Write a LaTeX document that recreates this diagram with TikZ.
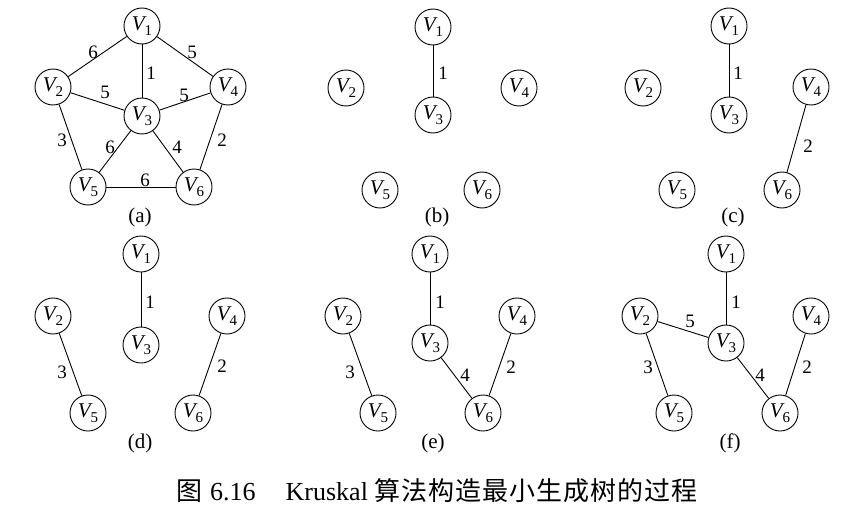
\documentclass[tikz,border=0pt]{standalone}
\usepackage{fontspec}
\setmainfont{Liberation Serif}
\newfontfamily\cjk{Noto Sans CJK SC}
\newcommand\Vx[1]{\textit{V}\kern-2pt\raisebox{-5pt}{\fontsize{15}{15}\selectfont #1}}
\begin{document}
\begin{tikzpicture}[x=1pt,y=-1pt,
  vtx/.style={circle,draw,line width=0.9pt,minimum size=36pt,inner sep=0pt,font=\fontsize{21}{21}\selectfont},
  lbl/.style={inner sep=0pt,font=\fontsize{19}{19}\selectfont},
  sublbl/.style={inner sep=0pt,font=\fontsize{21}{21}\selectfont},
  edge/.style={line width=0.9pt}]
\useasboundingbox (0,0) rectangle (856,511);
% ---------- (a)
\node[vtx] (a1) at (142,26) {\Vx{1}};
\node[vtx] (a2) at (53,87) {\Vx{2}};
\node[vtx] (a3) at (142,116) {\Vx{3}};
\node[vtx] (a4) at (228,87) {\Vx{4}};
\node[vtx] (a5) at (88,187) {\Vx{5}};
\node[vtx] (a6) at (194,187) {\Vx{6}};
\draw[edge] (a1) -- (a2);
\draw[edge] (a1) -- (a4);
\draw[edge] (a1) -- (a3);
\draw[edge] (a2) -- (a3);
\draw[edge] (a3) -- (a4);
\draw[edge] (a2) -- (a5);
\draw[edge] (a3) -- (a5);
\draw[edge] (a3) -- (a6);
\draw[edge] (a4) -- (a6);
\draw[edge] (a5) -- (a6);
\node[lbl] (la12) at (93,52) {6};
\node[lbl] (la14) at (192,52) {5};
\node[lbl] (la13) at (151,73) {1};
\node[lbl] (la23) at (105,92) {5};
\node[lbl] (la34) at (184,95) {5};
\node[lbl] (la25) at (62,140) {3};
\node[lbl] (la35) at (110,147) {6};
\node[lbl] (la36) at (177,147) {4};
\node[lbl] (la46) at (222,140) {2};
\node[lbl] (la56) at (145,180) {6};
\node[sublbl] (ca) at (140,217) {(a)};
% ---------- (b)
\node[vtx] (b1) at (433,27) {\Vx{1}};
\node[vtx] (b2) at (346,88) {\Vx{2}};
\node[vtx] (b3) at (433,115) {\Vx{3}};
\node[vtx] (b4) at (519,88) {\Vx{4}};
\node[vtx] (b5) at (380,190) {\Vx{5}};
\node[vtx] (b6) at (482,190) {\Vx{6}};
\draw[edge] (b1) -- (b3);
\node[lbl] (lb13) at (443,73) {1};
\node[sublbl] (cb) at (437,217) {(b)};
% ---------- (c)
\node[vtx] (c1) at (729,26) {\Vx{1}};
\node[vtx] (c2) at (643,88) {\Vx{2}};
\node[vtx] (c3) at (729,115) {\Vx{3}};
\node[vtx] (c4) at (811,87) {\Vx{4}};
\node[vtx] (c5) at (677,190) {\Vx{5}};
\node[vtx] (c6) at (782,190) {\Vx{6}};
\draw[edge] (c1) -- (c3);
\draw[edge] (c4) -- (c6);
\node[lbl] (lc13) at (738,73) {1};
\node[lbl] (lc46) at (808,146) {2};
\node[sublbl] (cc) at (733,217) {(c)};
% ---------- (d)
\node[vtx] (d1) at (141,254) {\Vx{1}};
\node[vtx] (d2) at (53,316) {\Vx{2}};
\node[vtx] (d3) at (141,345) {\Vx{3}};
\node[vtx] (d4) at (227,316) {\Vx{4}};
\node[vtx] (d5) at (88,413) {\Vx{5}};
\node[vtx] (d6) at (193,413) {\Vx{6}};
\draw[edge] (d1) -- (d3);
\draw[edge] (d2) -- (d5);
\draw[edge] (d4) -- (d6);
\node[lbl] (ld13) at (150,302) {1};
\node[lbl] (ld25) at (62,372) {3};
\node[lbl] (ld46) at (222,366) {2};
\node[sublbl] (cd) at (140,443) {(d)};
% ---------- (e)
\node[vtx] (e1) at (430,254) {\Vx{1}};
\node[vtx] (e2) at (343,316) {\Vx{2}};
\node[vtx] (e3) at (430,343) {\Vx{3}};
\node[vtx] (e4) at (517,316) {\Vx{4}};
\node[vtx] (e5) at (378,413) {\Vx{5}};
\node[vtx] (e6) at (483,413) {\Vx{6}};
\draw[edge] (e1) -- (e3);
\draw[edge] (e2) -- (e5);
\draw[edge] (e3) -- (e6);
\draw[edge] (e4) -- (e6);
\node[lbl] (le13) at (440,302) {1};
\node[lbl] (le25) at (350,372) {3};
\node[lbl] (le36) at (465,375) {4};
\node[lbl] (le46) at (511,367) {2};
\node[sublbl] (ce) at (433,443) {(e)};
% ---------- (f)
\node[vtx] (f1) at (726,254) {\Vx{1}};
\node[vtx] (f2) at (640,316) {\Vx{2}};
\node[vtx] (f3) at (726,343) {\Vx{3}};
\node[vtx] (f4) at (811,316) {\Vx{4}};
\node[vtx] (f5) at (674,413) {\Vx{5}};
\node[vtx] (f6) at (780,413) {\Vx{6}};
\draw[edge] (f1) -- (f3);
\draw[edge] (f2) -- (f3);
\draw[edge] (f2) -- (f5);
\draw[edge] (f3) -- (f6);
\draw[edge] (f4) -- (f6);
\node[lbl] (lf13) at (736,302) {1};
\node[lbl] (lf23) at (690,321) {5};
\node[lbl] (lf25) at (648,367) {3};
\node[lbl] (lf36) at (760,375) {4};
\node[lbl] (lf46) at (807,367) {2};
\node[sublbl] (cf) at (730,443) {(f)};
% ---------- caption
\node[anchor=base west,inner sep=0pt,font=\fontsize{26}{26}\selectfont] (title) at (176,500)
  {{\cjk 图}\hspace{8pt}6.16\hspace{30pt}Kruskal\hspace{6pt}{\cjk\addfontfeatures{LetterSpace=4}算法构造最小生成树的过程}};
\end{tikzpicture}
\end{document}
